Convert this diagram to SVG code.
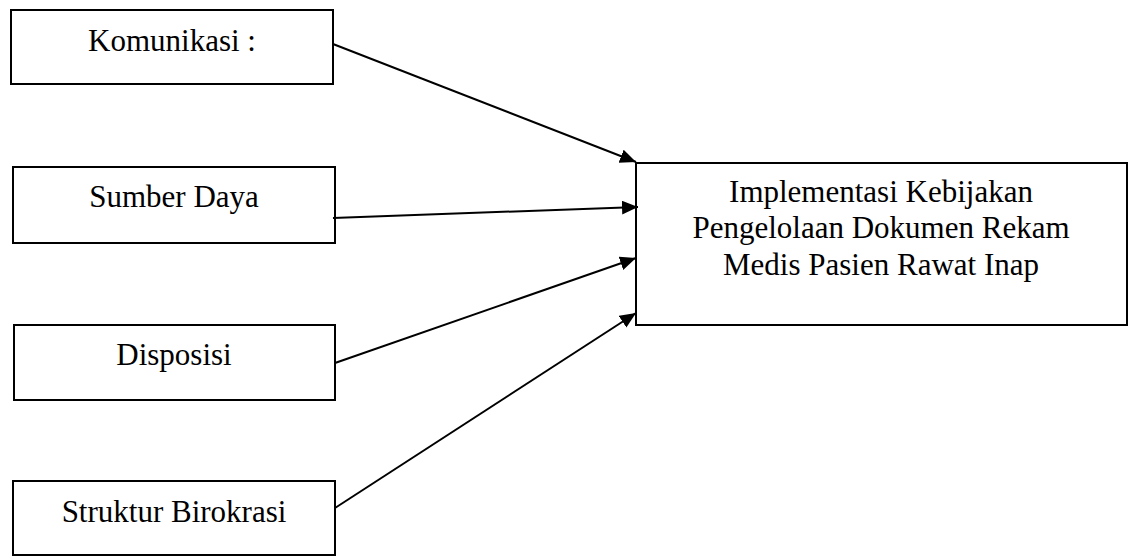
<svg xmlns="http://www.w3.org/2000/svg" width="1136" height="556" viewBox="0 0 1136 556">
<style>
.box{fill:#fff;stroke:#000;stroke-width:2}
.t{font-family:"Liberation Serif","Times New Roman",serif;font-size:31px;fill:#000;text-anchor:middle}
.c{stroke:#000;stroke-width:2;fill:none;marker-end:url(#ah)}
</style>
<defs>
<marker id="ah" markerUnits="userSpaceOnUse" markerWidth="17" markerHeight="15" refX="16" refY="7" orient="auto">
<path d="M0,0 L16,7 L0,14 Z" fill="#000"/>
</marker>
</defs>
<rect width="1136" height="556" fill="#fff"/>
<g id="komunikasi"><rect class="box" x="11" y="10" width="322" height="74"/><text class="t" x="172" y="51">Komunikasi :</text></g>
<g id="sumber-daya"><rect class="box" x="13" y="167" width="322" height="76"/><text class="t" x="174" y="207">Sumber Daya</text></g>
<g id="disposisi"><rect class="box" x="14" y="325" width="321" height="75"/><text class="t" x="174" y="365">Disposisi</text></g>
<g id="struktur"><rect class="box" x="13" y="481" width="322" height="74"/><text class="t" x="174" y="522">Struktur Birokrasi</text></g>
<g id="implementasi"><rect class="box" x="636" y="163" width="491" height="162"/>
<text class="t" x="881" y="202">Implementasi Kebijakan</text>
<text class="t" x="881" y="238">Pengelolaan Dokumen Rekam</text>
<text class="t" x="881" y="275">Medis Pasien Rawat Inap</text></g>
<g id="connectors">
<line class="c" x1="333" y1="44" x2="636" y2="162"/>
<line class="c" x1="333" y1="218" x2="638" y2="207"/>
<line class="c" x1="335" y1="363" x2="636" y2="258"/>
<line class="c" x1="335" y1="508" x2="636" y2="313"/>
</g>
</svg>
